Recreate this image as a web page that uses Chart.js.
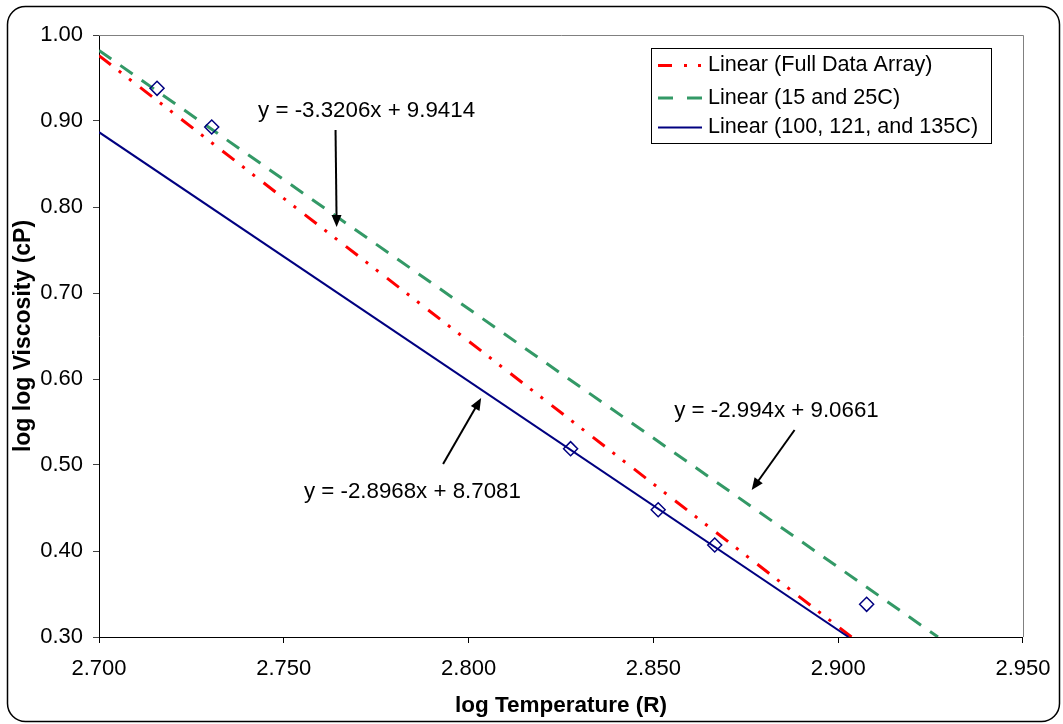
<!DOCTYPE html>
<html><head><meta charset="utf-8">
<script src="https://cdn.jsdelivr.net/npm/chart.js@4.4.1/dist/chart.umd.min.js"></script>
<style>html,body{margin:0;padding:0;background:#fff;}canvas{display:block;}</style>
</head><body>
<canvas id="c" width="1063" height="724"></canvas>
<script>
// ---- data ----
const logTemp    = [2.7157, 2.7305, 2.8276, 2.8513, 2.8666, 2.9077];
const logLogVisc = [0.938, 0.893, 0.519, 0.448, 0.407, 0.338];

const fullFitX = [2.700, 2.9036];
const fullFitY = [0.976, 0.300];
const lowFitX  = [2.700, 2.9270];
const lowFitY  = [0.982, 0.300];
const highFitX = [2.700, 2.9028];
const highFitY = [0.887, 0.300];

const seriesNames = ["Linear (Full Data Array)", "Linear (15 and 25C)", "Linear (100, 121, and 135C)"];
const equations   = ["y = -3.3206x + 9.9414", "y = -2.994x + 9.0661", "y = -2.8968x + 8.7081"];

const xTicks = [2.700, 2.750, 2.800, 2.850, 2.900, 2.950];
const yTicks = [0.30, 0.40, 0.50, 0.60, 0.70, 0.80, 0.90, 1.00];

const xTitle = "log Temperature (R)";
const yTitle = "log log Viscosity (cP)";

// annotation anchors (data coordinates)
const eqTextX = [2.7724, 2.8833, 2.7848];
const eqTextY = [0.9116, 0.5628, 0.4686];
const arrowFromX = [2.7640, 2.8882, 2.7931];
const arrowFromY = [0.8895, 0.5407, 0.5012];
const arrowToX   = [2.7643, 2.8766, 2.8034];
const arrowToY   = [0.7767, 0.4709, 0.5779];

// ---- build ----
const FONT = '"Liberation Sans", Arial, sans-serif';
const pts = (xs, ys) => xs.map((x, i) => ({x, y: ys[i]}));

const RED = '#FF0000', GREEN = '#339966', NAVY = '#000080';
const RED_DASH = [15, 10, 3, 10, 3, 11];
const GREEN_DASH = [15, 11];

function drawArrow(ctx, x1, y1, x2, y2) {
  const a = Math.atan2(y2 - y1, x2 - x1);
  const hl = 12, hw = 5;
  ctx.save();
  ctx.strokeStyle = '#000'; ctx.fillStyle = '#000'; ctx.lineWidth = 2;
  ctx.setLineDash([]);
  ctx.beginPath();
  ctx.moveTo(x1, y1);
  ctx.lineTo(x2 - Math.cos(a) * hl * 0.8, y2 - Math.sin(a) * hl * 0.8);
  ctx.stroke();
  ctx.beginPath();
  ctx.moveTo(x2, y2);
  ctx.lineTo(x2 - Math.cos(a) * hl - Math.sin(a) * hw, y2 - Math.sin(a) * hl + Math.cos(a) * hw);
  ctx.lineTo(x2 - Math.cos(a) * hl + Math.sin(a) * hw, y2 - Math.sin(a) * hl - Math.cos(a) * hw);
  ctx.closePath();
  ctx.fill();
  ctx.restore();
}

const decor = {
  id: 'decor',
  beforeDraw(chart) {
    const ctx = chart.ctx;
    ctx.save();
    ctx.fillStyle = '#fff';
    ctx.fillRect(0, 0, chart.width, chart.height);
    ctx.restore();
  },
  afterDraw(chart) {
    const ctx = chart.ctx, ca = chart.chartArea;
    const xs = chart.scales.x, ys = chart.scales.y;
    ctx.save();
    // gray top/right frame of plot area
    ctx.strokeStyle = '#808080'; ctx.lineWidth = 1;
    ctx.beginPath();
    ctx.moveTo(ca.left, Math.round(ca.top) + 0.5);
    ctx.lineTo(Math.round(ca.right) + 0.5, Math.round(ca.top) + 0.5);
    ctx.lineTo(Math.round(ca.right) + 0.5, ca.bottom);
    ctx.stroke();

    // outer rounded border
    ctx.strokeStyle = '#000'; ctx.lineWidth = 1.5;
    ctx.beginPath();
    ctx.roundRect(7.5, 6.5, 1052, 715, 18);
    ctx.stroke();

    // equations + arrows
    ctx.fillStyle = '#000';
    ctx.font = '22.3px ' + FONT;
    ctx.textAlign = 'center'; ctx.textBaseline = 'middle';
    for (let i = 0; i < equations.length; i++) {
      ctx.fillText(equations[i], xs.getPixelForValue(eqTextX[i]), ys.getPixelForValue(eqTextY[i]));
      drawArrow(ctx,
        xs.getPixelForValue(arrowFromX[i]), ys.getPixelForValue(arrowFromY[i]),
        xs.getPixelForValue(arrowToX[i]), ys.getPixelForValue(arrowToY[i]));
    }

    // legend
    const L = {x: 651.5, y: 48.5, w: 340, h: 95};
    ctx.fillStyle = '#fff';
    ctx.fillRect(L.x, L.y, L.w, L.h);
    ctx.strokeStyle = '#000'; ctx.lineWidth = 1; ctx.setLineDash([]);
    ctx.strokeRect(L.x, L.y, L.w, L.h);
    const rows = [65.5, 98, 127.5];
    const styles = [
      {c: RED, w: 3, d: [14, 12, 3, 11, 3, 20]},
      {c: GREEN, w: 3, d: [15, 14]},
      {c: NAVY, w: 2, d: []}
    ];
    ctx.textAlign = 'left'; ctx.textBaseline = 'middle';
    ctx.font = '21.6px ' + FONT;
    for (let i = 0; i < 3; i++) {
      const s = styles[i];
      ctx.strokeStyle = s.c; ctx.lineWidth = s.w; ctx.setLineDash(s.d);
      ctx.beginPath();
      ctx.moveTo(658, rows[i]); ctx.lineTo(702, rows[i]);
      ctx.stroke();
      ctx.setLineDash([]);
      ctx.fillStyle = '#000';
      ctx.fillText(seriesNames[i], 708, rows[i]);
    }
    ctx.restore();
  }
};

new Chart(document.getElementById('c'), {
  type: 'scatter',
  data: {
    datasets: [
      {label: 'data', data: pts(logTemp, logLogVisc), showLine: false,
       pointStyle: 'rectRot', pointRadius: 7, pointBorderWidth: 1.5,
       borderColor: NAVY, backgroundColor: 'rgba(255,255,255,0)', order: 0},
      {label: seriesNames[0], data: pts(fullFitX, fullFitY), showLine: true,
       borderColor: RED, borderWidth: 3, borderDash: RED_DASH, pointRadius: 0, order: 2},
      {label: seriesNames[1], data: pts(lowFitX, lowFitY), showLine: true,
       borderColor: GREEN, borderWidth: 3, borderDash: GREEN_DASH, pointRadius: 0, order: 3},
      {label: seriesNames[2], data: pts(highFitX, highFitY), showLine: true,
       borderColor: NAVY, borderWidth: 2, pointRadius: 0, order: 1}
    ]
  },
  options: {
    responsive: false, animation: false, devicePixelRatio: 1,
    layout: {padding: {top: 35, right: 38, left: 0, bottom: 0}},
    plugins: {legend: {display: false}, tooltip: {enabled: false}},
    scales: {
      x: {
        type: 'linear', min: 2.70, max: 2.95,
        afterBuildTicks: s => { s.ticks = xTicks.map(v => ({value: v})); },
        afterFit: s => { s.height = 87; },
        grid: {drawOnChartArea: false, drawTicks: true, tickLength: 6, color: '#000'},
        border: {color: '#000', width: 1},
        ticks: {color: '#000', font: {family: FONT, size: 22}, padding: 12.5,
                maxRotation: 0, autoSkip: false, callback: v => Number(v).toFixed(3)},
        title: {display: true, text: xTitle, color: '#000',
                font: {family: FONT, size: 22.5, weight: 'bold'}, padding: {top: 0, bottom: 5}}
      },
      y: {
        type: 'linear', min: 0.30, max: 1.00,
        afterBuildTicks: s => { s.ticks = yTicks.map(v => ({value: v})); },
        afterFit: s => { s.width = 99; },
        grid: {drawOnChartArea: false, drawTicks: true, tickLength: 6, color: '#404040'},
        border: {color: '#000', width: 1},
        ticks: {color: '#000', font: {family: FONT, size: 22}, padding: 10,
                autoSkip: false, callback: v => Number(v).toFixed(2)},
        title: {display: true, text: yTitle, color: '#000',
                font: {family: FONT, size: 23, weight: 'bold'}, padding: {top: 10, bottom: 0}}
      }
    }
  },
  plugins: [decor]
});
</script>
</body></html>
